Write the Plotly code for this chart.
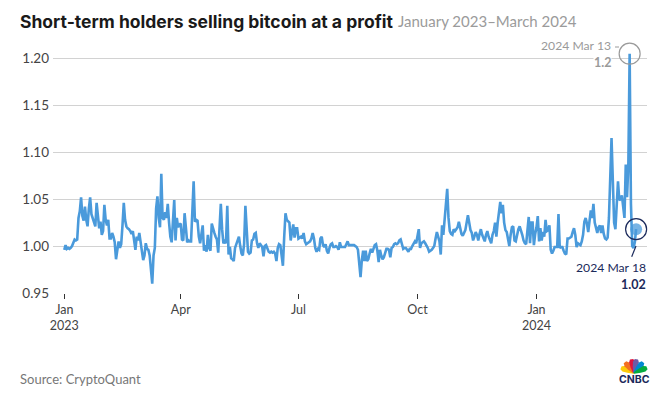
import math

import pandas as pd
import plotly.graph_objects as go

# daily values from 2023-01-01, ten per row
ratio = [
    0.996, 1.001, 0.997, 0.998, 0.997, 0.998, 1.000, 1.003, 1.007, 1.006,
    1.007, 1.030, 1.037, 1.052, 1.032, 1.027, 1.042, 1.028, 1.021, 1.040,
    1.052, 1.034, 1.030, 1.026, 1.021, 1.046, 1.030, 1.019, 1.026, 1.012,
    1.016, 1.044, 1.028, 1.022, 1.028, 1.008, 1.008, 1.014, 1.010, 1.004,
    0.986, 0.994, 1.005, 0.998, 1.002, 1.022, 1.046, 1.028, 1.021, 1.019,
    1.018, 1.016, 1.013, 1.016, 1.006, 0.996, 1.010, 1.006, 1.014, 1.003,
    0.994, 0.985, 0.990, 1.003, 0.997, 0.996, 0.990, 0.975, 0.960, 0.990,
    0.998, 1.040, 1.053, 1.030, 1.020, 1.077, 1.030, 1.028, 1.036, 1.030,
    1.045, 1.025, 1.010, 1.004, 1.028, 1.049, 1.006, 1.030, 1.020, 1.023,
    1.024, 1.007, 1.006, 1.035, 1.020, 1.004, 1.006, 1.005, 1.005, 1.030,
    1.069, 1.026, 1.028, 1.027, 1.010, 1.003, 1.012, 1.022, 0.995, 1.001,
    0.994, 1.012, 0.998, 0.995, 1.024, 1.018, 1.014, 1.010, 1.007, 0.993,
    1.020, 1.045, 1.018, 1.003, 1.005, 1.003, 1.043, 0.991, 0.999, 0.987,
    0.986, 0.984, 0.998, 1.003, 1.008, 1.010, 1.000, 0.992, 0.990, 1.002,
    1.043, 1.015, 0.994, 0.992, 0.993, 1.006, 1.007, 1.013, 1.014, 1.003,
    0.998, 1.003, 1.001, 0.999, 0.989, 1.000, 1.001, 0.998, 0.994, 0.993,
    0.994, 0.993, 0.994, 0.992, 0.984, 0.998, 1.002, 1.001, 0.990, 0.979,
    1.010, 1.035, 1.028, 1.026, 1.025, 1.006, 1.015, 1.023, 1.009, 1.019,
    1.019, 1.008, 1.009, 1.010, 1.008, 1.014, 1.005, 1.002, 1.003, 1.004,
    1.005, 1.008, 1.014, 1.008, 0.998, 0.994, 0.997, 0.996, 1.008, 1.010,
    1.001, 0.999, 1.002, 0.995, 0.992, 0.998, 1.002, 1.003, 0.999, 0.999,
    1.000, 0.999, 0.996, 1.004, 0.999, 0.999, 0.999, 0.999, 1.002, 1.005,
    1.001, 1.001, 1.001, 1.001, 1.001, 1.000, 0.999, 0.996, 0.980, 0.967,
    0.985, 0.995, 0.984, 0.995, 0.984, 0.986, 0.992, 0.997, 0.993, 0.998,
    1.001, 1.002, 0.995, 0.983, 0.996, 0.990, 0.986, 0.988, 0.992, 0.997,
    0.997, 0.996, 0.988, 0.998, 0.999, 1.002, 1.003, 1.002, 1.003, 1.006,
    1.007, 1.002, 0.997, 0.998, 0.998, 0.996, 0.994, 0.997, 0.997, 1.000,
    1.002, 1.005, 1.003, 1.010, 1.018, 0.998, 1.003, 1.004, 1.005, 1.003,
    1.001, 0.998, 0.994, 0.995, 0.996, 0.998, 1.000, 1.008, 1.015, 1.010,
    1.005, 0.991, 1.022, 1.012, 1.028, 1.045, 1.061, 1.030, 1.016, 1.013,
    1.012, 1.018, 1.016, 1.018, 1.020, 1.026, 1.018, 1.013, 1.011, 1.014,
    1.017, 1.025, 1.033, 1.025, 1.017, 1.014, 1.006, 1.010, 1.015, 1.012,
    1.006, 1.013, 1.018, 1.012, 1.008, 1.005, 1.012, 1.016, 1.010, 1.005,
    1.003, 1.012, 1.016, 1.025, 1.010, 1.025, 1.036, 1.047, 1.035, 1.044,
    1.025, 1.017, 1.015, 1.007, 1.000, 1.012, 1.020, 1.021, 1.006, 1.005,
    1.012, 1.018, 1.021, 1.017, 1.012, 1.006, 1.003, 1.002, 1.020, 1.031,
    1.003, 1.025, 1.025, 1.001, 1.013, 1.020, 1.032, 1.005, 1.019, 1.006,
    1.015, 1.010, 1.028, 1.016, 1.017, 1.022, 0.996, 0.992, 0.995, 0.999,
    0.999, 0.999, 1.034, 0.998, 0.999, 0.999, 0.995, 0.992, 0.991, 1.008,
    1.008, 1.009, 1.010, 1.015, 1.019, 1.012, 0.999, 1.003, 1.002, 1.001,
    1.005, 1.012, 1.026, 1.030, 1.024, 1.015, 1.027, 1.038, 1.030, 1.045,
    1.025, 1.018, 1.014, 1.020, 1.022, 1.014, 1.022, 1.013, 1.008, 1.007,
    1.009, 1.030, 1.075, 1.115, 1.070, 1.025, 1.018, 1.040, 1.069, 1.049,
    1.050, 1.054, 1.040, 1.030, 1.087, 1.052, 1.087, 1.205, 1.045, 1.000,
    0.998, 1.004, 1.018,
]
dates = pd.date_range("2023-01-01", periods=len(ratio), freq="D")

y_ticks = [0.95, 1.00, 1.05, 1.10, 1.15, 1.20]
x_ticks = ["2023-01-01", "2023-04-01", "2023-07-01", "2023-10-01", "2024-01-01"]
x_tick_labels = ["Jan<br>2023", "Apr", "Jul", "Oct", "Jan<br>2024"]

peak_date, peak_value = "2024-03-13", 1.205
last_date, last_value = "2024-03-18", 1.018

# the page has an 8px body margin, so the figure is smaller than the window
PAGE = 8
W, H = 666 - PAGE, 405 - PAGE
# plot area in window pixels
LEFT, RIGHT, TOP, BOTTOM = 53, 647, 49, 293
FONT = "Lato"
NAVY = "#1B2A5B"
GREY = "#9a9a9a"


def px(x):
    return (x - LEFT) / (RIGHT - LEFT)


def py(y):
    return (BOTTOM - y) / (BOTTOM - TOP)


def label(x, y, text, color, size, anchor="right", bg=None, family=FONT):
    return dict(xref="paper", yref="paper", x=px(x), y=py(y), text=text,
                showarrow=False, xanchor=anchor, yanchor="middle",
                font=dict(family=family, size=size, color=color),
                bgcolor=bg, borderpad=0)


def feather(angle, color, cx=634, cy=373, length=14, width=3.0):
    # one petal of the logo, pointing away from (cx, cy)
    a = math.radians(angle)
    ux, uy = math.cos(a), -math.sin(a)
    nx, ny = -uy, ux
    pts = []
    for t, w in [(0.0, 0.25), (0.45, 0.8), (0.8, 1.0), (1.0, 0.55)]:
        pts.append((cx + ux * length * t + nx * width * w, cy + uy * length * t + ny * width * w))
    for t, w in [(1.0, 0.55), (0.8, 1.0), (0.45, 0.8), (0.0, 0.25)]:
        pts.append((cx + ux * length * t - nx * width * w, cy + uy * length * t - ny * width * w))
    path = "M " + " L ".join(f"{px(p[0]):.4f},{py(p[1]):.4f}" for p in pts) + " Z"
    return dict(type="path", xref="paper", yref="paper", path=path,
                fillcolor=color, line=dict(width=0))


fig = go.Figure()

fig.add_trace(go.Scatter(x=dates, y=ratio, mode="lines",
                         line=dict(color="#4A9ADB", width=2.6),
                         hoverinfo="skip", showlegend=False))

# markers on the two called out days
fig.add_trace(go.Scatter(x=[last_date], y=[last_value], mode="markers",
                         marker=dict(size=12, color="rgba(74,154,219,0.75)"),
                         hoverinfo="skip", showlegend=False))
fig.add_trace(go.Scatter(x=[peak_date, last_date], y=[peak_value, last_value], mode="markers",
                         cliponaxis=False,
                         marker=dict(size=21, color="rgba(0,0,0,0)",
                                     line=dict(width=1.2, color=[GREY, NAVY])),
                         hoverinfo="skip", showlegend=False))

fig.update_layout(
    width=W, height=H,
    autosize=False,
    paper_bgcolor="white",
    plot_bgcolor="white",
    margin=dict(l=LEFT - PAGE, r=W + PAGE - RIGHT, t=TOP - PAGE, b=H + PAGE - BOTTOM),
    xaxis=dict(
        range=["2022-12-23 07:00", "2024-03-26 10:00"],
        tickvals=x_ticks, ticktext=x_tick_labels,
        showgrid=False, zeroline=False, showline=False,
        ticks="outside", ticklen=5, tickwidth=1, tickcolor="#333333",
        tickfont=dict(family=FONT, size=12.5, color="#444444"),
    ),
    yaxis=dict(
        range=[0.95, 1.21],
        tickvals=y_ticks, tickformat=".2f",
        showgrid=True, gridcolor="#d2d2d2", gridwidth=1,
        zeroline=False, showline=False,
        ticks="", ticklabelstandoff=3,
        tickfont=dict(family=FONT, size=13.5, color="#444444"),
    ),
    annotations=[
        label(19, 21, "<b>Short-term holders selling bitcoin at a profit</b>", "#1a1a1a", 17.5, anchor="left", family="Inter"),
        label(397, 21, "January 2023–March 2024", "#9b9b9b", 15, anchor="left"),
        label(612, 46, "2024 Mar 13", GREY, 12.2),
        label(612, 62, "<b>1.2</b>", GREY, 12.5, bg="white"),
        label(647, 267, "2024 Mar 18", NAVY, 12.2),
        label(647, 284, "<b>1.02</b>", NAVY, 12.5),
        label(19, 379, "Source: CryptoQuant", "#777777", 13, anchor="left"),
        label(634, 379.5, "<b>CNBC</b>", NAVY, 10.5, anchor="center", family="Inter"),
    ],
    shapes=[
        dict(type="line", xref="paper", yref="paper", x0=px(615), y0=py(47), x1=px(619), y1=py(47),
             line=dict(color=GREY, width=1)),
        dict(type="line", xref="paper", yref="paper", x0=px(636), y0=py(246), x1=px(631.7), y1=py(256.7),
             line=dict(color=NAVY, width=1.2)),
        feather(158, "#FCCB0A"),
        feather(130, "#F37021"),
        feather(100, "#E0143C"),
        feather(80, "#6E5AA5"),
        feather(50, "#0089D0"),
        feather(22, "#05AC3F"),
    ],
)

fig.write_html("out.html")
